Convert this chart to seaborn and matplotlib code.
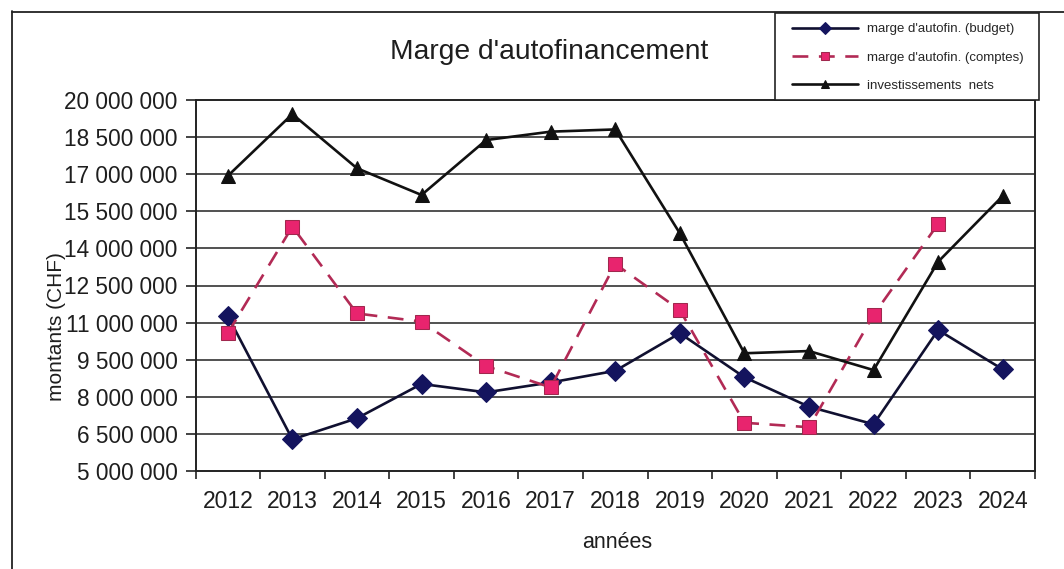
import matplotlib
matplotlib.use("Agg")
import matplotlib.pyplot as plt
import matplotlib.lines as mlines
import matplotlib.patches as mpatches
import numpy as np
import pandas as pd
import seaborn as sns

years = ["2012", "2013", "2014", "2015", "2016", "2017", "2018",
         "2019", "2020", "2021", "2022", "2023", "2024"]
budget = [11270000, 6280000, 7130000, 8520000, 8180000, 8580000, 9050000,
          10570000, 8790000, 7600000, 6890000, 10700000, 9110000]
comptes = [10570000, 14880000, 11370000, 11040000, 9240000, 8380000, 13370000,
           11510000, 6950000, 6770000, 11310000, 14990000, np.nan]
invest = [16930000, 19430000, 17240000, 16160000, 18380000, 18720000, 18810000,
          14610000, 9760000, 9850000, 9080000, 13460000, 16120000]
y_ticks = [5000000, 6500000, 8000000, 9500000, 11000000, 12500000, 14000000,
           15500000, 17000000, 18500000, 20000000]

labels = ["marge d'autofin. (budget)", "marge d'autofin. (comptes)", "investissements  nets"]

sns.set_theme(style="white")
plt.rcParams['font.family'] = ['Liberation Sans', 'DejaVu Sans']

W, H = 1064, 569
fig = plt.figure(figsize=(W / 100, H / 100), dpi=100)
fig.patch.set_facecolor("white")
ax = fig.add_axes([195.5 / W, 1 - 471 / H, (1035 - 195.5) / W, (471 - 100) / H])
ax.set_facecolor("white")

df = pd.DataFrame({"idx": np.arange(len(years)), "budget": budget,
                   "comptes": comptes, "invest": invest})

sns.lineplot(data=df, x="idx", y="budget", ax=ax, color="#101030", lw=1.9,
             marker="D", markersize=10, markerfacecolor="#14145e",
             markeredgecolor="#14145e", label=labels[0], zorder=4)
sns.lineplot(data=df.dropna(subset=["comptes"]), x="idx", y="comptes", ax=ax,
             color="#b22a55", lw=1.9, linestyle=(0, (6, 4)),
             marker="s", markersize=10, markerfacecolor="#e8246e",
             markeredgecolor="#a0284e", label=labels[1], zorder=4)
sns.lineplot(data=df, x="idx", y="invest", ax=ax, color="#111111", lw=1.9,
             marker="^", markersize=9.5, markerfacecolor="#111111",
             markeredgecolor="#111111", label=labels[2], zorder=4)

ax.set_xlim(-0.5, len(years) - 0.5)
ax.set_ylim(5000000, 20000000)
ax.set_yticks(y_ticks)
ax.set_yticklabels([f"{v:,}".replace(",", " ") for v in y_ticks], fontsize=16.3,
                   color="#1e1e1e")
ax.set_xticks(np.arange(len(years)))
ax.set_xticklabels(years, fontsize=16.5, color="#1e1e1e")
ax.set_xticks(np.arange(-0.5, len(years), 1.0), minor=True)
ax.tick_params(axis="x", which="major", length=0, pad=14)
ax.tick_params(axis="x", which="minor", length=6, width=1.2, color="#222222",
               direction="out", bottom=True)
ax.tick_params(axis="y", which="major", length=7, width=1.2, color="#222222",
               direction="out", left=True, pad=6)
for yv in y_ticks[1:-1]:
    ax.axhline(yv, color="#222222", lw=1.1, zorder=1)
for s in ax.spines.values():
    s.set_color("#222222")
    s.set_linewidth(1.4)

ax.set_xlabel("")
ax.set_ylabel("")
fig.text(617 / W, 1 - 543 / H, "années", ha="center", va="center",
         fontsize=15.5, color="#1e1e1e")
fig.text(56 / W, 1 - 327 / H, "montants (CHF)", ha="center", va="center",
         rotation=90, fontsize=15, color="#1e1e1e")
fig.text(549 / W, 1 - 52 / H, "Marge d'autofinancement", ha="center", va="center",
         fontsize=20.3, color="#1e1e1e")

ax.get_legend().remove()
handles, _ = ax.get_legend_handles_labels()
# legend frame
fig.add_artist(mpatches.Rectangle((775 / W, 1 - 100 / H), (1039 - 775) / W, 87 / H,
                                  transform=fig.transFigure, facecolor="white",
                                  edgecolor="#222222", lw=1.2, zorder=5))
leg = fig.legend(handles, labels, loc="center left",
                 bbox_to_anchor=(792 / W, 1 - 57.5 / H), bbox_transform=fig.transFigure,
                 fontsize=9.5, frameon=False, handlelength=5.0, handletextpad=0.68,
                 labelspacing=1.23, borderpad=0, borderaxespad=0, markerscale=0.6)
leg.set_zorder(6)

# outer scan border
fig.add_artist(mlines.Line2D([12 / W, 12 / W], [0, 1 - 11 / H], transform=fig.transFigure,
                             color="#222222", lw=1.3))
fig.add_artist(mlines.Line2D([12 / W, 1], [1 - 12 / H, 1 - 12 / H], transform=fig.transFigure,
                             color="#222222", lw=1.3))

fig.savefig("out.png", dpi=100)
